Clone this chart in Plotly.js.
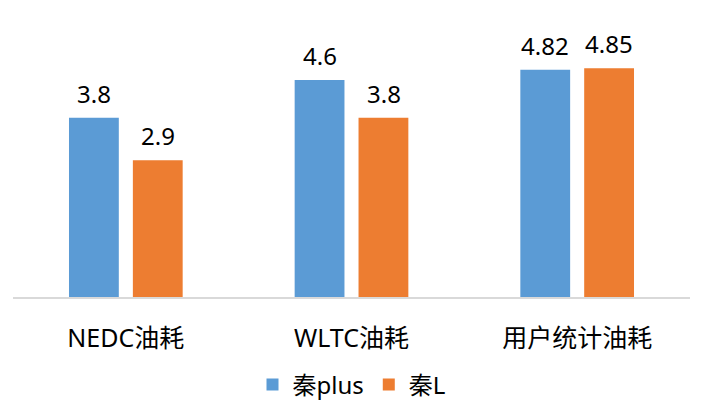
<!DOCTYPE html>
<html><head><meta charset="utf-8">
<script src="https://cdn.plot.ly/plotly-3.0.1.min.js"></script>
<style>html,body{margin:0;padding:0;background:#fff}#chart{width:704px;height:419px}</style>
</head><body><div id="chart"></div>
<script>
const categories = ["NEDC油耗", "WLTC油耗", "用户统计油耗"];
const seriesNames = ["秦plus", "秦L"];
const qinPlus = [3.8, 4.6, 4.82];
const qinL = [2.9, 3.8, 4.85];
const colors = ["#5B9BD5", "#ED7D31"];
const FONT = "Noto Sans, Noto Sans CJK SC, sans-serif";

const seriesVals = [qinPlus, qinL];
const traces = seriesVals.map((vals, i) => ({
  type: "bar", name: seriesNames[i], x: categories, y: vals,
  marker: {color: colors[i]}, hoverinfo: "none"
}));

const shifts = [-32, 32];
const annotations = [];
seriesVals.forEach((vals, i) => {
  vals.forEach((v, j) => {
    annotations.push({x: categories[j], y: v, xref: "x", yref: "y", text: String(v),
      showarrow: false, xshift: shifts[i], yanchor: "bottom", yshift: 6,
      font: {family: FONT, size: 24, color: "#000"}});
  });
});

Plotly.newPlot("chart", traces, {
  width: 704, height: 419,
  margin: {l: 13, r: 14, t: 14, b: 122},
  barmode: "group", bargap: 0.434, bargroupgap: 0.22,
  paper_bgcolor: "#fff", plot_bgcolor: "#fff",
  font: {family: FONT, size: 24, color: "#000"},
  xaxis: {showline: true, linecolor: "#D9D9D9", linewidth: 2, ticks: "", ticklabelstandoff: 18,
          tickfont: {family: FONT, size: 25, color: "#000"}},
  yaxis: {range: [0, 6], visible: false, showgrid: false, zeroline: false},
  showlegend: true,
  legend: {orientation: "h", x: 0.5, xanchor: "center", y: -0.311, yanchor: "middle",
           font: {family: FONT, size: 24, color: "#000"}, itemwidth: 30, tracegroupgap: 0},
  annotations: annotations
}, {staticPlot: true});
</script></body></html>
